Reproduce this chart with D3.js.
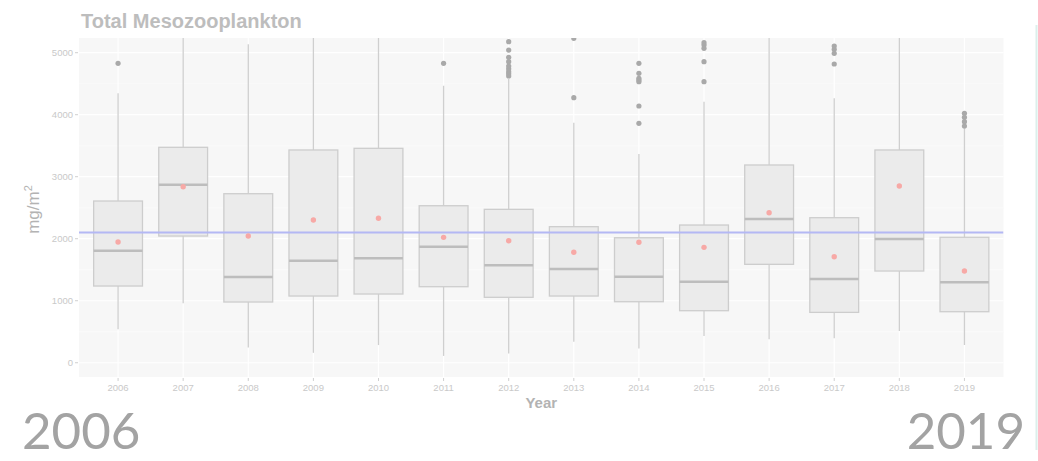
<!DOCTYPE html>
<html>
<head>
<meta charset="utf-8">
<script src="https://cdn.jsdelivr.net/npm/d3@7"></script>
<style>
  html, body { margin: 0; padding: 0; background: #ffffff; }
  svg { display: block; }
</style>
</head>
<body>
<svg id="chart" width="1038" height="461"></svg>
<script>
// ---- data ----
const years = ["2006","2007","2008","2009","2010","2011","2012","2013","2014","2015","2016","2017","2018","2019"];
const whiskerLow  = [540, 960, 245, 160, 285, 110, 150, 340, 230, 430, 380, 395, 510, 285];
const q1          = [1237, 2043, 979, 1076, 1108, 1226, 1055, 1076, 984, 839, 1587, 812, 1479, 823];
const medians     = [1806, 2871, 1382, 1645, 1684, 1871, 1571, 1511, 1387, 1306, 2318, 1350, 1995, 1297];
const q3          = [2608, 3474, 2726, 3431, 3458, 2532, 2474, 2194, 2016, 2221, 3189, 2339, 3431, 2023];
const whiskerHigh = [4345, 5600, 5135, 5600, 5600, 4468, 4580, 3871, 3366, 4210, 5600, 4264, 5600, 3790];
const means       = [1947, 2839, 2043, 2302, 2329, 2022, 1968, 1781, 1942, 1861, 2419, 1710, 2850, 1479];
const outliers    = [
  [4829],
  [],
  [],
  [],
  [],
  [4829],
  [4624, 4660, 4694, 4740, 4785, 4855, 4925, 5043, 5177],
  [4274, 5232],
  [3861, 4140, 4532, 4560, 4587, 4668, 4829],
  [4532, 4855, 5071, 5124, 5161],
  [],
  [4818, 4990, 5055, 5108],
  [],
  [3818, 3887, 3958, 4023]
];
const overallMean = 2100;
const yTicks = [0, 1000, 2000, 3000, 4000, 5000];
const yMinor = [500, 1500, 2500, 3500, 4500];
const titleText = "Total Mesozooplankton";
const xTitle = "Year";
const yTitle = "mg/m";
const firstYearLabel = "2006";
const lastYearLabel = "2019";

// ---- layout ----
const svg = d3.select("#chart");
const panel = { left: 79, right: 1003.5, top: 38, bottom: 377 };

// discrete axis with ggplot-like 0.6 expansion on each side
const x = d3.scalePoint().domain(years)
  .range([panel.left, panel.right])
  .padding(0.6);
const step = x.step();
const xc = d => x(d);
const boxW = step * 0.75;

const y = d3.scaleLinear().domain([-230, 5237]).range([panel.bottom, panel.top]);

// panel background
svg.append("rect")
  .attr("x", panel.left).attr("y", panel.top)
  .attr("width", panel.right - panel.left).attr("height", panel.bottom - panel.top)
  .attr("fill", "#f7f7f7");

// grid
const grid = svg.append("g");
grid.selectAll(".minor").data(yMinor).enter().append("line")
  .attr("x1", panel.left).attr("x2", panel.right)
  .attr("y1", d => y(d)).attr("y2", d => y(d))
  .attr("stroke", "#fcfcfc").attr("stroke-width", 0.6);
grid.selectAll(".major").data(yTicks).enter().append("line")
  .attr("x1", panel.left).attr("x2", panel.right)
  .attr("y1", d => y(d)).attr("y2", d => y(d))
  .attr("stroke", "#ffffff").attr("stroke-width", 1.2);
grid.selectAll(".vx").data(years).enter().append("line")
  .attr("x1", d => xc(d)).attr("x2", d => xc(d))
  .attr("y1", panel.top).attr("y2", panel.bottom)
  .attr("stroke", "#ffffff").attr("stroke-width", 1.2);

// clip
svg.append("clipPath").attr("id", "clip").append("rect")
  .attr("x", panel.left).attr("y", panel.top)
  .attr("width", panel.right - panel.left).attr("height", panel.bottom - panel.top);

const plot = svg.append("g").attr("clip-path", "url(#clip)");

const boxes = plot.selectAll(".box").data(years).enter().append("g");
// whiskers
boxes.append("line")
  .attr("x1", d => xc(d)).attr("x2", d => xc(d))
  .attr("y1", (d, i) => y(q3[i])).attr("y2", (d, i) => y(whiskerHigh[i]))
  .attr("stroke", "#cfcfcf").attr("stroke-width", 1.3);
boxes.append("line")
  .attr("x1", d => xc(d)).attr("x2", d => xc(d))
  .attr("y1", (d, i) => y(q1[i])).attr("y2", (d, i) => y(whiskerLow[i]))
  .attr("stroke", "#cfcfcf").attr("stroke-width", 1.3);
// box
boxes.append("rect")
  .attr("x", d => xc(d) - boxW / 2).attr("width", boxW)
  .attr("y", (d, i) => y(q3[i])).attr("height", (d, i) => y(q1[i]) - y(q3[i]))
  .attr("fill", "#ebebeb").attr("stroke", "#cdcdcd").attr("stroke-width", 1.3);
// median
boxes.append("line")
  .attr("x1", d => xc(d) - boxW / 2).attr("x2", d => xc(d) + boxW / 2)
  .attr("y1", (d, i) => y(medians[i])).attr("y2", (d, i) => y(medians[i]))
  .attr("stroke", "#bdbdbd").attr("stroke-width", 2.4);
// outliers
boxes.each(function (d, i) {
  d3.select(this).selectAll("circle.out").data(outliers[i]).enter().append("circle")
    .attr("cx", xc(d)).attr("cy", v => y(v)).attr("r", 2.6)
    .attr("fill", "#a9a9a9");
});

// overall mean line
plot.append("line")
  .attr("x1", panel.left).attr("x2", panel.right)
  .attr("y1", y(overallMean)).attr("y2", y(overallMean))
  .attr("stroke", "#b4b8f4").attr("stroke-width", 2.2);

// means
plot.selectAll(".mean").data(years).enter().append("circle")
  .attr("cx", d => xc(d)).attr("cy", (d, i) => y(means[i])).attr("r", 2.7)
  .attr("fill", "#f7a9a6");

// axes
const font = "'Liberation Sans', Arial, Helvetica, sans-serif";
const yAxis = svg.append("g");
yAxis.selectAll("line").data(yTicks).enter().append("line")
  .attr("x1", panel.left - 4).attr("x2", panel.left - 1)
  .attr("y1", d => y(d)).attr("y2", d => y(d))
  .attr("stroke", "#d0d0d0").attr("stroke-width", 1);
yAxis.selectAll("text").data(yTicks).enter().append("text")
  .attr("x", panel.left - 6).attr("y", d => y(d)).attr("dy", "0.35em")
  .attr("text-anchor", "end")
  .attr("font-family", font).attr("font-size", 9.5).attr("fill", "#c9c9c9")
  .text(d => d);

const xAxis = svg.append("g");
xAxis.selectAll("line").data(years).enter().append("line")
  .attr("x1", d => xc(d)).attr("x2", d => xc(d))
  .attr("y1", panel.bottom + 1).attr("y2", panel.bottom + 4)
  .attr("stroke", "#d0d0d0").attr("stroke-width", 1);
xAxis.selectAll("text").data(years).enter().append("text")
  .attr("x", d => xc(d)).attr("y", panel.bottom + 14)
  .attr("text-anchor", "middle")
  .attr("font-family", font).attr("font-size", 9.5).attr("fill", "#c9c9c9")
  .text(d => d);

// axis titles
svg.append("text")
  .attr("x", (panel.left + panel.right) / 2).attr("y", 408)
  .attr("text-anchor", "middle")
  .attr("font-family", font).attr("font-weight", "bold").attr("font-size", 15)
  .attr("fill", "#b3b3b3").text(xTitle);

const yt = svg.append("text")
  .attr("transform", `translate(39, ${(panel.top + panel.bottom) / 2 + 2}) rotate(-90)`)
  .attr("text-anchor", "middle")
  .attr("font-family", font).attr("font-size", 17).attr("fill", "#b3b3b3");
yt.append("tspan").text(yTitle);
yt.append("tspan").attr("dy", -7).attr("font-size", 11).text("2");

// title
svg.append("text")
  .attr("x", 81).attr("y", 28)
  .attr("font-family", font).attr("font-weight", "bold").attr("font-size", 20)
  .attr("fill", "#bdbdbd").text(titleText);

// big year labels
const bigFont = "Lato, 'Open Sans', sans-serif";
svg.append("text")
  .attr("x", 22).attr("y", 449)
  .attr("font-family", bigFont).attr("font-size", 51)
  .attr("fill", "#a3a3a3").text(firstYearLabel);
svg.append("text")
  .attr("x", 1025).attr("y", 449)
  .attr("text-anchor", "end")
  .attr("font-family", bigFont).attr("font-size", 51)
  .attr("fill", "#a3a3a3").text(lastYearLabel);

// faint teal edge on the right
svg.append("line")
  .attr("x1", 1036.5).attr("x2", 1036.5).attr("y1", 25).attr("y2", 450)
  .attr("stroke", "#dcefeb").attr("stroke-width", 2);
</script>
</body>
</html>
